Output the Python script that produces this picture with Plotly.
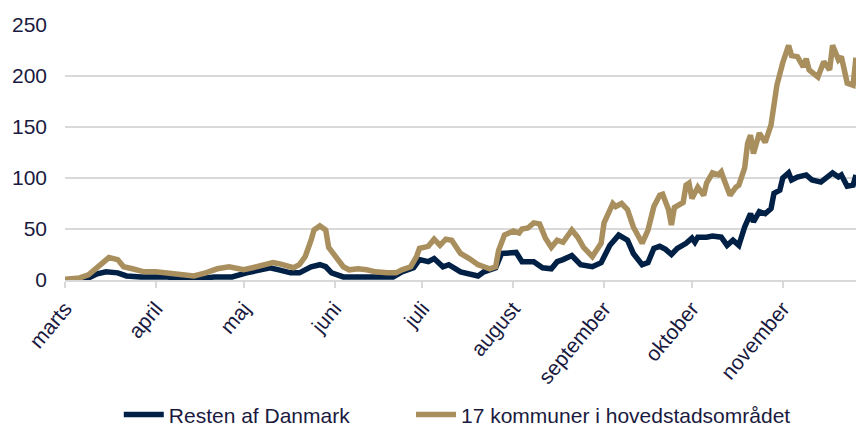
import datetime
import plotly.graph_objects as go

# Smittede pr. 100.000 indbyggere (aflæst), dag-nr. regnet fra 1. marts 2020
startDate = datetime.date(2020, 3, 1)

restDays = [0, 8, 11, 14, 18, 21, 26, 31, 35, 39, 45, 51, 57, 62, 67, 70, 73, 77, 80,
            82, 84, 87, 89, 91, 95, 100, 104, 109, 112, 115, 119, 121, 124, 126, 129,
            131, 135, 141, 143, 147, 149, 154, 156, 160, 163, 166, 168, 170, 173, 176,
            180, 183, 186, 189, 192, 194, 197, 199, 201, 203, 205, 207, 209, 212, 214,
            215, 216, 219, 221, 224, 226, 228, 230, 232, 234, 235, 237, 239, 241, 242,
            244, 245, 247, 248, 250, 253, 255, 258, 259, 262, 264, 265, 267, 269, 270]
restValues = [0, 2, 6, 8, 7, 4, 3, 3, 3, 1, 1, 3, 3, 7, 10, 12, 10, 7, 7,
              10, 13, 15, 13, 7, 3, 3, 3, 3, 3, 8, 12, 20, 18, 21, 13,
              15, 8, 4, 8, 12, 26, 27, 18, 18, 12, 11, 18, 20, 24, 15,
              13, 17, 34, 44, 39, 26, 15, 17, 31, 33, 30, 25, 31, 36, 41,
              37, 42, 42, 43, 42, 34, 39, 34, 52, 65, 57, 67, 65, 70, 85,
              88, 100, 105, 98, 101, 103, 98, 96, 98, 105, 101, 103, 92, 93, 103]

capDays = [0, 5, 8, 11, 13, 15, 18, 20, 23, 27, 31, 35, 39, 44, 48, 52, 56, 59, 61,
           64, 68, 71, 73, 76, 78, 80, 82, 84, 85, 87, 89, 90, 93, 95, 97, 100, 103,
           106, 110, 113, 115, 118, 120, 121, 124, 126, 128, 130, 132, 135, 138, 141,
           143, 145, 147, 148, 150, 153, 155, 156, 158, 160, 162, 164, 166, 168, 170,
           173, 175, 177, 180, 183, 184, 187, 188, 190, 192, 194, 197, 199, 201, 203,
           204, 206, 207, 208, 211, 212, 213, 214, 216, 218, 219, 221, 223, 224, 225,
           227, 229, 230, 232, 233, 234, 235, 237, 239, 241, 242, 243, 245, 247, 248,
           250, 252, 253, 254, 257, 259, 261, 262, 264, 265, 267, 269, 270]
capValues = [0.7, 2, 5, 12, 18, 22, 20, 13, 11, 8, 8, 7, 5, 4, 7, 11, 13, 11, 10,
             12, 15, 17, 16, 13, 12, 15, 23, 39, 49, 53, 49, 32, 20, 13, 10, 11, 10,
             8, 7, 7, 10, 13, 23, 31, 33, 40, 34, 40, 39, 26, 21, 15,
             13, 11, 13, 29, 44, 48, 46, 50, 51, 56, 55, 41, 32, 39, 37,
             49, 42, 32, 23, 36, 56, 75, 72, 75, 69, 52, 36, 49, 72, 83,
             84, 69, 54, 71, 76, 93, 95, 80, 91, 83, 95, 105, 103, 106, 98,
             83, 91, 93, 110, 134, 142, 124, 144, 135, 152, 176, 191, 213, 230, 220,
             219, 209, 217, 206, 199, 214, 206, 230, 216, 219, 193, 191, 218]

monthStarts = ["2020-03-01", "2020-04-01", "2020-05-01", "2020-06-01", "2020-07-01",
               "2020-08-01", "2020-09-01", "2020-10-01", "2020-11-01"]
monthNames = ["marts", "april", "maj", "juni", "juli", "august", "september",
              "oktober", "november"]

restDates = [startDate + datetime.timedelta(days=d) for d in restDays]
capDates = [startDate + datetime.timedelta(days=d) for d in capDays]

navy = "#002145"
gold = "#a98f5e"
textColor = "#1a1a40"
fontName = "Liberation Sans, Arial, sans-serif"

fig = go.Figure()
fig.add_trace(go.Scatter(x=restDates, y=restValues, mode="lines",
                         name="Resten af Danmark", legend="legend",
                         line=dict(color=navy, width=5.5)))
fig.add_trace(go.Scatter(x=capDates, y=capValues, mode="lines",
                         name="17 kommuner i hovedstadsområdet", legend="legend2",
                         line=dict(color=gold, width=5.5)))

legendStyle = dict(orientation="h", xanchor="left", y=-0.529, yanchor="middle",
                   font=dict(size=21, color=textColor), itemwidth=40)
fig.update_layout(
    width=856, height=427,
    margin=dict(l=65, r=0, t=25, b=147, autoexpand=False),
    paper_bgcolor="white", plot_bgcolor="white",
    font=dict(family=fontName, size=21, color=textColor),
    showlegend=True,
    legend=dict(x=0.068, **legendStyle),
    legend2=dict(x=0.4374, **legendStyle),
)
fig.update_xaxes(
    range=[startDate, startDate + datetime.timedelta(days=270)],
    tickvals=monthStarts, ticktext=monthNames, tickangle=-50,
    showgrid=False, showline=True, linecolor="#d9d9d9", linewidth=2,
    ticks="outside", ticklen=6, tickcolor="#d9d9d9", tickwidth=2,
    tickfont=dict(size=21, color=textColor), automargin=False,
)
fig.update_yaxes(
    range=[0, 250], dtick=50,
    showgrid=True, gridcolor="#d9d9d9", gridwidth=2,
    zeroline=False, showline=False, ticklabelstandoff=17,
    tickfont=dict(size=21, color=textColor), automargin=False,
)

# drop the default 8px page margin so the figure fills the window exactly
fig.write_html("out.html", config={"displayModeBar": False},
               post_script="document.body.style.margin='0';document.body.style.overflow='hidden';")
